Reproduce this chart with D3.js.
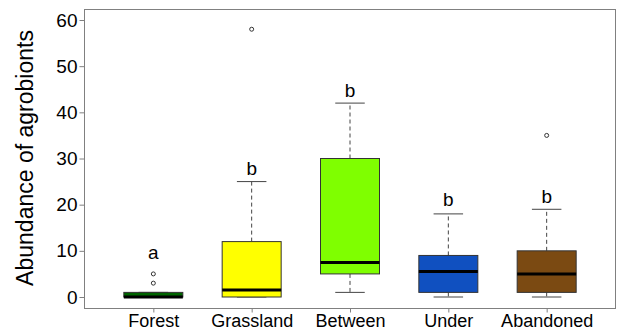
<!DOCTYPE html>
<html>
<head>
<meta charset="utf-8">
<script src="https://cdn.jsdelivr.net/npm/d3@7"></script>
<style>
  body { margin: 0; background: #fff; }
  text { font-family: "Liberation Sans", Arial, sans-serif; }
</style>
</head>
<body>
<div id="plot-area"></div>
<script>
// data
var habitats = ["Forest", "Grassland", "Between", "Under", "Abandoned"]
var lowWhisker = [0, 0, 1, 0, 0]
var q1 = [0, 0, 5, 1, 1]
var median = [0, 1.5, 7.5, 5.5, 5]
var q3 = [1, 12, 30, 9, 10]
var highWhisker = [1, 25, 42, 18, 19]
var outliers = [[3, 5], [58], [], [], [35]]
var letters = ["a", "b", "b", "b", "b"]
var letterY = [8.2, 26.4, 43.3, 19.7, 20.3]
var fills = ["#006400", "#ffff00", "#7fff00", "#1050c0", "#7b4a12"]
var yTicks = [0, 10, 20, 30, 40, 50, 60]

var width = 617
var height = 330
var plotLeft = 84.5, plotRight = 615.5, plotTop = 9.5, plotBottom = 308.5

var svg = d3.select("#plot-area").append("svg")
    .attr("width", width)
    .attr("height", height)

// R style: groups at 1..5, xlim 0.3..5.7
var xScale = d3.scaleLinear()
    .domain([0.3, 5.7])
    .range([plotLeft, plotRight])

var yScale = d3.scaleLinear()
    .domain([0, 60])
    .range([297, 20])

var band = xScale(2) - xScale(1)
var boxW = band * 0.6
var capW = boxW / 2

// frame
svg.append("rect")
    .attr("x", plotLeft).attr("y", plotTop)
    .attr("width", plotRight - plotLeft).attr("height", plotBottom - plotTop)
    .attr("fill", "none").attr("stroke", "#808080").attr("stroke-width", 1)

var yAxis = d3.axisLeft(yScale).tickValues(yTicks).tickSize(5).tickPadding(2)
var gy = svg.append("g")
    .attr("transform", "translate(" + plotLeft + ",0)")
    .call(yAxis)
gy.select(".domain").remove()
gy.selectAll(".tick line").attr("stroke", "#808080")
gy.selectAll(".tick text").attr("font-size", 19).attr("fill", "#000")

var xAxis = d3.axisBottom(xScale).tickValues([1, 2, 3, 4, 5])
    .tickFormat(function(d){ return habitats[d - 1] })
    .tickSize(4).tickPadding(2)
var gx = svg.append("g")
    .attr("transform", "translate(0," + plotBottom + ")")
    .call(xAxis)
gx.select(".domain").remove()
gx.selectAll(".tick line").attr("stroke", "#808080")
gx.selectAll(".tick text").attr("font-size", 18).attr("fill", "#000")

svg.append("text")
    .attr("transform", "translate(33,158) rotate(-90)")
    .attr("text-anchor", "middle")
    .attr("font-size", 23)
    .text("Abundance of agrobionts")

var boxes = svg.append("g")

habitats.forEach(function(h, i) {
    var cx = xScale(i + 1)
    var g = boxes.append("g")

    // whiskers
    g.append("line")
        .attr("x1", cx).attr("x2", cx)
        .attr("y1", yScale(q3[i])).attr("y2", yScale(highWhisker[i]))
        .attr("stroke", "#444").attr("stroke-dasharray", "4,3")
    g.append("line")
        .attr("x1", cx).attr("x2", cx)
        .attr("y1", yScale(q1[i])).attr("y2", yScale(lowWhisker[i]))
        .attr("stroke", "#444").attr("stroke-dasharray", "4,3")
    // caps
    g.append("line")
        .attr("x1", cx - capW / 2).attr("x2", cx + capW / 2)
        .attr("y1", yScale(highWhisker[i])).attr("y2", yScale(highWhisker[i]))
        .attr("stroke", "#444")
    g.append("line")
        .attr("x1", cx - capW / 2).attr("x2", cx + capW / 2)
        .attr("y1", yScale(lowWhisker[i])).attr("y2", yScale(lowWhisker[i]))
        .attr("stroke", "#444")

    // box
    g.append("rect")
        .attr("x", cx - boxW / 2).attr("width", boxW)
        .attr("y", yScale(q3[i])).attr("height", yScale(q1[i]) - yScale(q3[i]))
        .attr("fill", fills[i]).attr("stroke", "#333").attr("stroke-width", 1)

    // median
    g.append("line")
        .attr("x1", cx - boxW / 2).attr("x2", cx + boxW / 2)
        .attr("y1", yScale(median[i])).attr("y2", yScale(median[i]))
        .attr("stroke", "#000").attr("stroke-width", 3)

    // outliers
    g.selectAll("circle")
        .data(outliers[i]).enter()
        .append("circle")
        .attr("cx", cx)
        .attr("cy", function(d){ return yScale(d) })
        .attr("r", 2)
        .attr("fill", "none").attr("stroke", "#333").attr("stroke-width", 1)

    // letters
    g.append("text")
        .attr("x", cx)
        .attr("y", yScale(letterY[i]))
        .attr("text-anchor", "middle")
        .attr("font-size", 19)
        .text(letters[i])
})
</script>
</body>
</html>
